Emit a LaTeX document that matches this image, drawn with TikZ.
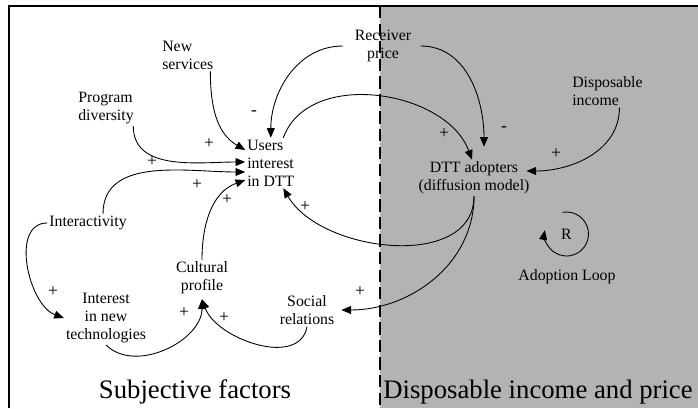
\documentclass[tikz,border=0pt]{standalone}
\usepackage{fontspec}
\setmainfont{Liberation Serif}
\usetikzlibrary{arrows.meta}
\definecolor{regiongray}{RGB}{179,179,179}

\begin{document}
\begin{tikzpicture}[
    % GLOBAL CFG
    >={Triangle[length=5.5pt,width=4.5pt]},
    % Styles
    var/.style={% For the variables
        align=center,
        inner sep=1pt,
        font=\fontsize{9}{10.2}\selectfont,
        },
    varleft/.style={% Variables written flush left
        var,
        align=left,
        anchor=west,
        },
    polarity/.style={% For the + and - signs
        inner sep=0pt,
        font=\fontsize{10}{12}\selectfont,
        },
    region/.style={% For the two big titles
        inner sep=0pt,
        font=\fontsize{15.2}{18}\selectfont,
        },
    link/.style={% Causal arrows
        ->,
        line width=0.5pt,
        },
    ]

%Start drawing the thing...
    \useasboundingbox (0,0) rectangle (13.96,8.16);
    % Background and frame
    \fill [regiongray] (7.6,0) rectangle (13.96,8.04);
    \draw [line width=0.6pt] (0.18,0) -- (0.18,8.04) -- (13.96,8.04);
    \draw [line width=0.6pt, dash pattern=on 7pt off 3pt] (7.6,8.04) -- (7.6,0);

    % Draw the variables
    \node [var] (rec) at (7.66,7.24) {Receiver\\price};
    \node [varleft] (news) at (3.204,7.06) {New\\services};
    \node [varleft] (prog) at (1.524,6.0) {Program\\diversity};
    \node [varleft] (users) at (4.904,4.9) {Users\\interest\\in DTT};
    \node [varleft] (disp) at (11.404,6.34) {Disposable\\income};
    \node [var] (dtt) at (9.48,4.6) {DTT adopters\\(diffusion model)};
    \node [var] (inter) at (1.76,3.7) {Interactivity};
    \node [var] (intnew) at (2.12,1.8) {Interest\\in new\\technologies};
    \node [var] (cult) at (4.04,2.6) {Cultural\\profile};
    \node [var] (soc) at (6.14,1.96) {Social\\relations};

    % Loop marker
    \node [var] (loopR) at (11.33,3.48) {R};
    \node [var] (loopname) at (11.34,2.62) {Adoption Loop};

    % Titles of the two halves
    \node [region] (subj) at (3.9,0.32) {Subjective factors};
    \node [region, anchor=west] (money) at (7.66,0.32) {Disposable income and price};

% Start connecting all.
    % Into users interest
    \draw [link] ([xshift=-0.1cm]news.south east) to[out=-90, in=150] ([yshift=0.26cm]users.west);
    \draw [link] ([xshift=-0.05cm]prog.south east) to[out=-90, in=180] ([yshift=0.02cm]users.west);
    \draw [link] ([xshift=0.3cm]inter.north) to[out=90, in=180] ([yshift=-0.18cm]users.west);
    \draw [link] (cult.north) to[out=90, in=200] ([yshift=-0.34cm]users.west);
    \draw [link] ([xshift=-0.2cm]rec.west) to[out=180, in=90] (users.north);
    \draw [link] (dtt.south) to[out=-90, in=-60] ([xshift=0.25cm]users.south);

    % Into DTT adopters
    \draw [link] ([xshift=0.25cm]users.north) to[out=70, in=110] ([xshift=-0.04cm]dtt.north);
    \draw [link] ([xshift=0.15cm]rec.east) to[out=0, in=90] ([xshift=0.2cm,yshift=0.26cm]dtt.north);
    \draw [link] ([xshift=0.24cm]disp.south) to[out=-90, in=0] ([xshift=-0.1cm,yshift=0.14cm]dtt.east);

    % Lower part
    \draw [link] (dtt.south) to[out=-90, in=0] ([xshift=0.1cm]soc.east);
    \draw [link] (inter.west) to[out=180, in=160] (intnew.west);
    \draw [link] (intnew.south) to[out=-45, in=-90] ([yshift=-0.06cm]cult.south);
    \draw [link] (soc.south) to[out=-100, in=-70] ([yshift=-0.06cm]cult.south);

    % Reinforcing loop
    \draw [link] (loopR.center) ++(100:0.44) arc[start angle=100, end angle=-190, radius=0.44];

    % Polarities
    \node [polarity] (s1) at (5.08,5.9) {-};
    \node [polarity] (s2) at (4.18,5.28) {+};
    \node [polarity] (s3) at (3.04,4.92) {+};
    \node [polarity] (s4) at (3.94,4.46) {+};
    \node [polarity] (s5) at (4.54,4.16) {+};
    \node [polarity] (s6) at (6.1,4.02) {+};
    \node [polarity] (s7) at (8.88,5.48) {+};
    \node [polarity] (s8) at (10.08,5.58) {-};
    \node [polarity] (s9) at (11.12,5.08) {+};
    \node [polarity] (s10) at (7.2,2.32) {+};
    \node [polarity] (s11) at (1.06,2.32) {+};
    \node [polarity] (s12) at (3.68,1.9) {+};
    \node [polarity] (s13) at (4.48,1.8) {+};

\end{tikzpicture}
\end{document}
